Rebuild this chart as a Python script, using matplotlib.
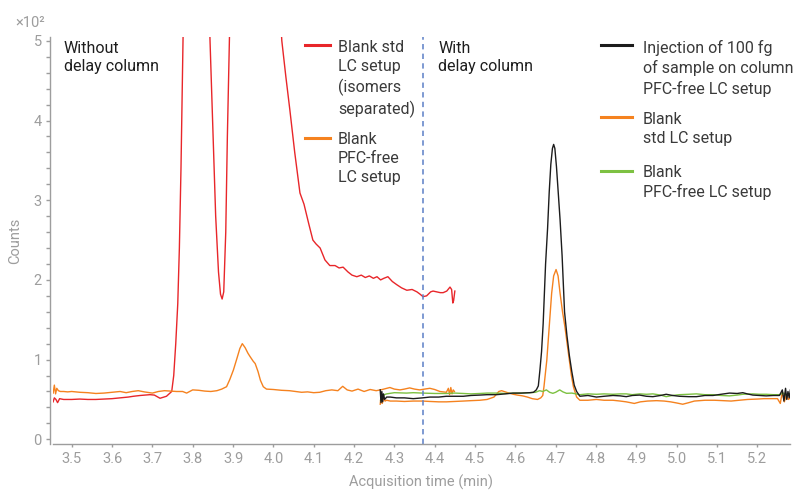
import numpy as np
import matplotlib
matplotlib.use("Agg")
import matplotlib.pyplot as plt
from matplotlib.lines import Line2D

plt.rcParams['font.family'] = ['Roboto', 'DejaVu Sans']

# (time in min, counts x 10^2)
blank_std_no_delay = [
    (3.454, 0.47), (3.457, 0.52), (3.461, 0.50), (3.465, 0.46), (3.470, 0.51),
    (3.48, 0.50), (3.50, 0.50), (3.52, 0.505), (3.54, 0.50), (3.56, 0.50),
    (3.58, 0.505), (3.60, 0.51), (3.62, 0.52), (3.64, 0.53), (3.653, 0.54),
    (3.67, 0.55), (3.694, 0.56), (3.705, 0.555), (3.719, 0.515), (3.735, 0.54),
    (3.748, 0.60), (3.753, 0.80), (3.758, 1.2), (3.763, 1.7), (3.767, 2.4),
    (3.771, 3.4), (3.776, 5.0), (3.785, 7.5), (3.81, 9.0), (3.835, 6.5),
    (3.843, 5.0), (3.85, 3.9), (3.857, 2.8), (3.864, 2.1), (3.869, 1.82),
    (3.873, 1.76), (3.877, 1.85), (3.882, 2.6), (3.886, 3.8), (3.891, 5.0),
    (3.90, 7.0), (3.95, 10.0), (4.01, 6.0), (4.021, 5.0), (4.031, 4.55),
    (4.041, 4.13), (4.053, 3.6), (4.066, 3.09), (4.076, 2.95), (4.088, 2.7),
    (4.098, 2.5), (4.106, 2.45), (4.116, 2.4), (4.128, 2.25), (4.140, 2.18),
    (4.153, 2.18), (4.163, 2.15), (4.173, 2.16), (4.185, 2.1), (4.195, 2.06),
    (4.207, 2.04), (4.218, 2.06), (4.228, 2.03), (4.238, 2.05), (4.248, 2.02),
    (4.257, 2.04), (4.266, 2.0), (4.274, 2.02), (4.284, 2.04), (4.295, 1.98),
    (4.306, 1.94), (4.318, 1.9), (4.331, 1.87), (4.344, 1.88), (4.356, 1.85),
    (4.364, 1.82), (4.371, 1.79), (4.38, 1.80), (4.39, 1.85), (4.396, 1.86),
    (4.405, 1.85), (4.414, 1.84), (4.421, 1.84), (4.43, 1.86), (4.438, 1.91),
    (4.442, 1.88), (4.445, 1.71), (4.447, 1.74), (4.450, 1.86),
]

blank_pfc_free_no_delay = [
    (3.454, 0.58), (3.457, 0.68), (3.460, 0.57), (3.463, 0.64), (3.467, 0.61),
    (3.472, 0.60), (3.48, 0.60), (3.49, 0.595), (3.50, 0.60), (3.52, 0.59),
    (3.54, 0.585), (3.56, 0.575), (3.58, 0.58), (3.60, 0.59), (3.62, 0.60),
    (3.635, 0.585), (3.65, 0.60), (3.665, 0.61), (3.68, 0.595), (3.70, 0.58),
    (3.715, 0.60), (3.73, 0.61), (3.745, 0.605), (3.76, 0.60), (3.775, 0.60),
    (3.785, 0.58), (3.80, 0.62), (3.815, 0.615), (3.83, 0.605), (3.845, 0.60),
    (3.86, 0.61), (3.872, 0.63), (3.884, 0.66), (3.892, 0.75), (3.901, 0.87),
    (3.91, 1.02), (3.917, 1.14), (3.923, 1.20), (3.93, 1.15), (3.937, 1.08),
    (3.942, 1.04), (3.95, 0.98), (3.955, 0.95), (3.962, 0.85), (3.968, 0.74),
    (3.975, 0.66), (3.983, 0.63), (4.00, 0.625), (4.02, 0.615), (4.04, 0.61),
    (4.055, 0.60), (4.07, 0.59), (4.085, 0.595), (4.10, 0.585), (4.115, 0.59),
    (4.13, 0.61), (4.145, 0.62), (4.16, 0.61), (4.172, 0.665), (4.183, 0.62),
    (4.195, 0.605), (4.21, 0.63), (4.225, 0.60), (4.24, 0.625), (4.255, 0.61),
    (4.27, 0.625), (4.289, 0.65), (4.30, 0.63), (4.314, 0.62), (4.325, 0.63),
    (4.338, 0.645), (4.35, 0.63), (4.363, 0.62), (4.375, 0.63), (4.388, 0.64),
    (4.40, 0.625), (4.413, 0.60), (4.429, 0.59), (4.434, 0.64), (4.437, 0.56),
    (4.440, 0.65), (4.443, 0.57), (4.446, 0.62), (4.449, 0.60),
]

injection_pfc_free = [
    (4.265, 0.62), (4.267, 0.46), (4.269, 0.60), (4.271, 0.47), (4.273, 0.57),
    (4.276, 0.50), (4.281, 0.53), (4.29, 0.53), (4.305, 0.52), (4.325, 0.52),
    (4.347, 0.51), (4.37, 0.52), (4.388, 0.53), (4.41, 0.53), (4.429, 0.54),
    (4.45, 0.54), (4.471, 0.54), (4.49, 0.55), (4.512, 0.555), (4.53, 0.56),
    (4.553, 0.56), (4.575, 0.57), (4.594, 0.58), (4.615, 0.58), (4.636, 0.585),
    (4.645, 0.59), (4.652, 0.62), (4.657, 0.67), (4.661, 0.87), (4.665, 1.1),
    (4.669, 1.45), (4.675, 2.2), (4.680, 2.65), (4.684, 3.1), (4.688, 3.45),
    (4.692, 3.65), (4.695, 3.70), (4.698, 3.65), (4.702, 3.42), (4.707, 3.05),
    (4.711, 2.75), (4.716, 2.3), (4.722, 1.6), (4.728, 1.3), (4.734, 1.05),
    (4.740, 0.85), (4.746, 0.68), (4.752, 0.60), (4.76, 0.54), (4.78, 0.55),
    (4.801, 0.53), (4.82, 0.54), (4.842, 0.55), (4.86, 0.545), (4.875, 0.535),
    (4.89, 0.55), (4.908, 0.555), (4.925, 0.54), (4.941, 0.535), (4.96, 0.55),
    (4.974, 0.565), (4.99, 0.55), (5.007, 0.54), (5.03, 0.535), (5.049, 0.535),
    (5.07, 0.55), (5.09, 0.55), (5.11, 0.565), (5.131, 0.58), (5.15, 0.575),
    (5.164, 0.585), (5.175, 0.57), (5.189, 0.555), (5.205, 0.55), (5.222, 0.545),
    (5.24, 0.55), (5.255, 0.55), (5.262, 0.62), (5.266, 0.48), (5.27, 0.64),
    (5.273, 0.50), (5.276, 0.60), (5.279, 0.52), (5.282, 0.62),
]

blank_std_delay = [
    (4.265, 0.44), (4.267, 0.55), (4.270, 0.45), (4.273, 0.52), (4.277, 0.48),
    (4.281, 0.49), (4.29, 0.48), (4.305, 0.48), (4.325, 0.475), (4.347, 0.48),
    (4.37, 0.48), (4.388, 0.475), (4.41, 0.47), (4.429, 0.47), (4.45, 0.475),
    (4.471, 0.48), (4.49, 0.485), (4.512, 0.49), (4.53, 0.50), (4.547, 0.53),
    (4.559, 0.60), (4.566, 0.61), (4.572, 0.60), (4.584, 0.58), (4.595, 0.565),
    (4.605, 0.555), (4.618, 0.545), (4.630, 0.53), (4.642, 0.51), (4.655, 0.50),
    (4.663, 0.52), (4.668, 0.55), (4.671, 0.66), (4.675, 0.85), (4.678, 0.99),
    (4.684, 1.41), (4.690, 1.83), (4.695, 2.05), (4.701, 2.13), (4.706, 2.05),
    (4.711, 1.83), (4.717, 1.6), (4.723, 1.41), (4.729, 1.18), (4.734, 0.99),
    (4.739, 0.8), (4.744, 0.66), (4.752, 0.53), (4.76, 0.49), (4.78, 0.49),
    (4.801, 0.50), (4.82, 0.49), (4.842, 0.49), (4.86, 0.48), (4.875, 0.47),
    (4.895, 0.45), (4.91, 0.47), (4.928, 0.48), (4.95, 0.485), (4.969, 0.48),
    (4.985, 0.47), (5.001, 0.455), (5.015, 0.44), (5.03, 0.46), (5.044, 0.48),
    (5.07, 0.49), (5.094, 0.49), (5.115, 0.485), (5.135, 0.48), (5.155, 0.49),
    (5.176, 0.50), (5.2, 0.505), (5.217, 0.51), (5.235, 0.51), (5.250, 0.51),
    (5.257, 0.45), (5.262, 0.60), (5.267, 0.47), (5.272, 0.56), (5.277, 0.50),
    (5.282, 0.52),
]

blank_pfc_free_delay = [
    (4.266, 0.49), (4.268, 0.56), (4.271, 0.52), (4.275, 0.56), (4.281, 0.57),
    (4.30, 0.585), (4.33, 0.58), (4.347, 0.585), (4.37, 0.58), (4.40, 0.575),
    (4.429, 0.575), (4.45, 0.58), (4.471, 0.575), (4.49, 0.57), (4.512, 0.575),
    (4.53, 0.58), (4.553, 0.58), (4.575, 0.575), (4.594, 0.578), (4.615, 0.58),
    (4.636, 0.585), (4.65, 0.59), (4.660, 0.61), (4.668, 0.60), (4.677, 0.62),
    (4.685, 0.59), (4.693, 0.577), (4.70, 0.59), (4.710, 0.62), (4.718, 0.595),
    (4.727, 0.577), (4.74, 0.58), (4.76, 0.56), (4.78, 0.57), (4.801, 0.565),
    (4.82, 0.57), (4.842, 0.565), (4.86, 0.57), (4.875, 0.57), (4.89, 0.56),
    (4.908, 0.57), (4.925, 0.565), (4.941, 0.57), (4.96, 0.555), (4.974, 0.535),
    (4.99, 0.55), (5.007, 0.56), (5.03, 0.565), (5.049, 0.57), (5.07, 0.56),
    (5.09, 0.56), (5.11, 0.55), (5.131, 0.545), (5.15, 0.555), (5.164, 0.565),
    (5.189, 0.57), (5.205, 0.565), (5.222, 0.565), (5.24, 0.56), (5.255, 0.56),
    (5.265, 0.58), (5.272, 0.55), (5.278, 0.57), (5.282, 0.56),
]

x_ticks = [3.5, 3.6, 3.7, 3.8, 3.9, 4.0, 4.1, 4.2, 4.3, 4.4, 4.5, 4.6, 4.7, 4.8, 4.9, 5.0, 5.1, 5.2]
y_ticks = [0, 1, 2, 3, 4, 5]
delay_split = 4.37

RED = '#e8262a'
ORANGE = '#f5821f'
BLACK = '#1c1c1c'
GREEN = '#7dc142'
GRAY = '#9d9d9d'
TEXT = '#3a3a3a'

left_legend = [
    ("Blank std\nLC setup\n(isomers\nseparated)", RED, 0.9803, 0.9926),
    ("Blank\nPFC-free\nLC setup", ORANGE, 0.7518, 0.7666),
]
right_legend = [
    ("Injection of 100 fg\nof sample on column\nPFC-free LC setup", BLACK, 0.9803, 0.9926),
    ("Blank\nstd LC setup", ORANGE, 0.8034, 0.8157),
    ("Blank\nPFC-free LC setup", GREEN, 0.6708, 0.6855),
]

fig = plt.figure(figsize=(7.93, 4.91), dpi=100)
ax = fig.add_axes([0.0665, 0.0957, 0.9297, 0.829])

series = [
    (blank_std_no_delay, RED),
    (blank_pfc_free_no_delay, ORANGE),
    (blank_std_delay, ORANGE),
    (blank_pfc_free_delay, GREEN),
    (injection_pfc_free, BLACK),
]
for data, color in series:
    t, y = np.array(data).T
    ax.plot(t, y, color=color, lw=1.0, solid_joinstyle='round')

ax.axvline(delay_split, color='#5b7fc6', lw=1.1, ls=(0, (3.5, 2.8)))

ax.set_xlim(3.453, 5.281)
ax.set_ylim(-0.059, 5.048)
ax.set_xticks(x_ticks)
ax.set_xticklabels([f"{v:.1f}" for v in x_ticks])
ax.set_yticks(y_ticks)
ax.set_yticks(np.arange(0, 5.01, 0.2), minor=True)

for side in ['top', 'right']:
    ax.spines[side].set_visible(False)
for side in ['left', 'bottom']:
    ax.spines[side].set_color(GRAY)
    ax.spines[side].set_linewidth(1.0)
ax.spines['left'].set_position(('outward', 2))
ax.tick_params(axis='x', length=2, width=1, color=GRAY, labelcolor=GRAY, labelsize=10.5, pad=4)
ax.tick_params(axis='y', which='both', length=3, width=1, color=GRAY, labelcolor=GRAY, labelsize=10.5, pad=3)

ax.set_xlabel("Acquisition time (min)", color=GRAY, fontsize=10.5, labelpad=6)
ax.set_ylabel("Counts", color=GRAY, fontsize=10.5, labelpad=8)
fig.text(15 / 793, 1 - 23 / 491, "×10²", color=GRAY, fontsize=10.5, va='center', ha='left')

ax.text(0.0153, 0.991, "Without\ndelay column", transform=ax.transAxes, ha='left', va='top',
        fontsize=11.5, color='#1e1e1e', linespacing=1.3)
ax.text(0.5226, 0.991, "With\ndelay column", transform=ax.transAxes, ha='left', va='top',
        fontsize=11.5, color='#1e1e1e', linespacing=1.3)

for entries, x0, x1, xt in [(left_legend, 0.3422, 0.3761, 0.3869),
                            (right_legend, 0.7436, 0.7857, 0.8006)]:
    for label, color, yh, yt in entries:
        ax.add_line(Line2D([x0, x1], [yh, yh], transform=ax.transAxes, color=color, lw=2.2))
        ax.text(xt, yt, label, transform=ax.transAxes, ha='left', va='top',
                fontsize=11.5, color=TEXT, linespacing=1.34)

fig.savefig("out.png", dpi=100)
